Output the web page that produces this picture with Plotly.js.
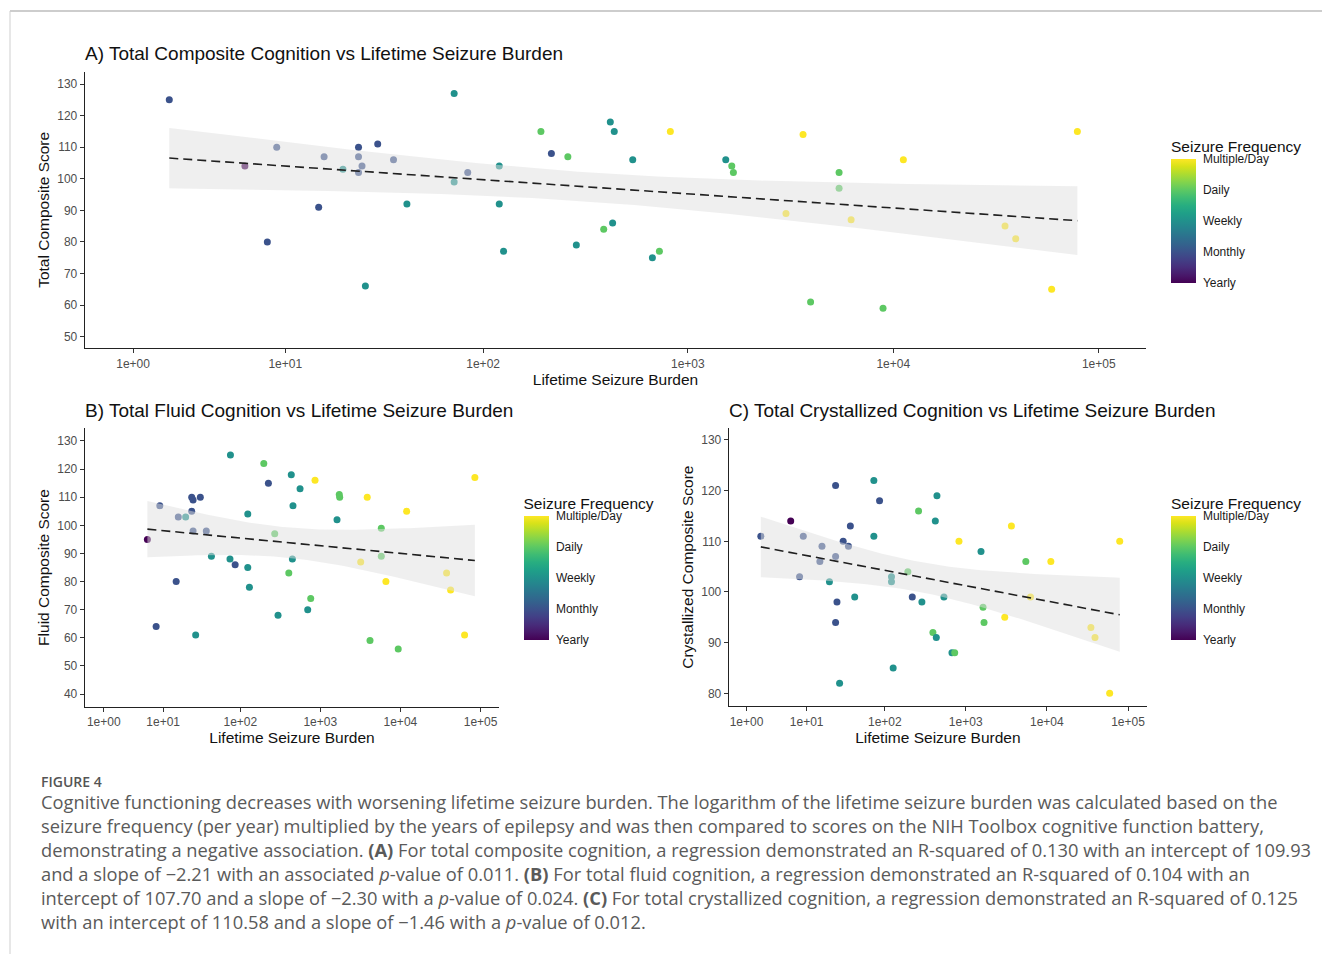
<!DOCTYPE html>
<html>
<head>
<meta charset="utf-8">
<script src="https://cdn.plot.ly/plotly-3.0.1.min.js"></script>
<style>
html,body{margin:0;padding:0;background:#fff;}
#chart{width:1322px;height:954px;}
</style>
</head>
<body>
<div id="chart"></div>
<script>
// ---------------- data ----------------
const freqLabels = ['Yearly', 'Monthly', 'Weekly', 'Daily', 'Multiple/Day'];
const freqLevels = [1, 2, 3, 4, 5];
const tickBurden = [1, 10, 100, 1000, 10000, 100000];
const tickLabels = ['1e+00', '1e+01', '1e+02', '1e+03', '1e+04', '1e+05'];

// Panel A: Total composite
const burdenA = [2, 9, 6, 8, 15, 16, 20, 24, 24, 25, 24, 30, 36, 26, 42, 72, 72, 84, 120, 120, 126, 192, 216, 260, 286, 389, 419, 438, 430, 539, 672, 727, 822, 1530, 1637, 1667, 3006, 3640, 3960, 5450, 5450, 6237, 8920, 11200, 34990, 39450, 59000, 78700];
const scoreA  = [125, 110, 104, 80, 91, 107, 103, 110, 107, 104, 102, 111, 106, 66, 92, 127, 99, 102, 104, 92, 77, 115, 108, 107, 79, 84, 118, 115, 86, 106, 75, 77, 115, 106, 104, 102, 89, 114, 61, 102, 97, 87, 59, 106, 85, 81, 65, 115];
const freqA   = [2, 2, 1, 2, 2, 2, 3, 2, 2, 2, 2, 2, 2, 3, 3, 3, 3, 2, 3, 3, 3, 4, 2, 4, 3, 4, 3, 3, 3, 3, 3, 4, 5, 3, 4, 4, 5, 5, 4, 4, 4, 5, 4, 5, 5, 5, 5, 5];

// Panel B: Total fluid
const burdenB = [75, 197, 225, 435, 560, 457, 9, 24, 25, 31, 24, 16, 20, 6, 25, 37, 124, 270, 43, 74, 86, 124, 130, 449, 405, 15, 297, 8, 27, 761, 698, 861, 1729, 1750, 1620, 3860, 5780, 5780, 3199, 6600, 11970, 4180, 9400, 37700, 42300, 63200, 84900];
const scoreB  = [125, 122, 115, 118, 113, 107, 107, 110, 109, 110, 105, 103, 103, 95, 98, 98, 104, 97, 89, 88, 86, 85, 78, 88, 83, 80, 68, 64, 61, 74, 70, 116, 111, 110, 102, 110, 99, 89, 87, 80, 105, 59, 56, 83, 77, 61, 117];
const freqB   = [3, 4, 2, 3, 3, 3, 2, 2, 2, 2, 2, 2, 3, 1, 2, 2, 3, 4, 3, 3, 2, 3, 3, 3, 4, 2, 3, 2, 3, 4, 3, 5, 4, 4, 3, 5, 4, 4, 5, 5, 5, 4, 4, 5, 5, 5, 5];

// Panel C: Total crystallized
const burdenC = [2, 6, 9, 8, 24, 16, 15, 24, 30, 37, 35, 20, 25, 24, 27, 42, 73, 86, 73, 121, 121, 193, 127, 219, 262, 288, 394, 442, 422, 434, 539, 826, 677, 732, 1545, 1637, 1683, 3660, 3030, 5510, 6290, 11200, 34900, 39200, 59400, 79000];
const scoreC  = [111, 114, 111, 103, 121, 109, 106, 107, 110, 113, 109, 102, 98, 94, 82, 99, 122, 118, 111, 103, 102, 104, 85, 99, 116, 98, 92, 119, 114, 91, 99, 110, 88, 88, 108, 97, 94, 113, 95, 106, 99, 106, 93, 91, 80, 110];
const freqC   = [2, 1, 2, 2, 2, 2, 2, 2, 2, 2, 2, 3, 2, 2, 3, 3, 3, 2, 3, 3, 3, 4, 3, 2, 4, 3, 4, 3, 3, 3, 3, 5, 3, 4, 3, 4, 4, 5, 5, 4, 5, 5, 5, 5, 5, 5];

const panelTitles = [
  'A) Total Composite Cognition vs Lifetime Seizure Burden',
  'B) Total Fluid Cognition vs Lifetime Seizure Burden',
  'C) Total Crystallized Cognition vs Lifetime Seizure Burden'
];
const yTitles = ['Total Composite Score', 'Fluid Composite Score', 'Crystallized Composite Score'];
const xTitle = 'Lifetime Seizure Burden';
const legendTitle = 'Seizure Frequency';

const captionHead = 'FIGURE 4';
const captionLines = [
  'Cognitive functioning decreases with worsening lifetime seizure burden. The logarithm of the lifetime seizure burden was calculated based on the',
  'seizure frequency (per year) multiplied by the years of epilepsy and was then compared to scores on the NIH Toolbox cognitive function battery,',
  'demonstrating a negative association. <b>(A)</b> For total composite cognition, a regression demonstrated an R-squared of 0.130 with an intercept of 109.93',
  'and a slope of \u22122.21 with an associated <i>p</i>-value of 0.011. <b>(B)</b> For total fluid cognition, a regression demonstrated an R-squared of 0.104 with an',
  'intercept of 107.70 and a slope of \u22122.30 with a <i>p</i>-value of 0.024. <b>(C)</b> For total crystallized cognition, a regression demonstrated an R-squared of 0.125',
  'with an intercept of 110.58 and a slope of \u22121.46 with a <i>p</i>-value of 0.012.'
];

// ---------------- helpers ----------------
const W = 1322, H = 954;
const px = v => v / W;
const py = v => 1 - v / H;
const FONT = 'Liberation Sans, Arial, Helvetica, sans-serif';
const CAPFONT = 'Open Sans, Noto Sans, sans-serif';

// linear model on log10(1 + burden) with 95% confidence band (like geom_smooth(method = "lm"))
function lmBand(burden, score) {
  const t = burden.map(b => Math.log10(1 + b));
  const n = t.length;
  const mx = t.reduce((s, v) => s + v, 0) / n;
  const my = score.reduce((s, v) => s + v, 0) / n;
  let sxx = 0, sxy = 0;
  for (let i = 0; i < n; i++) { sxx += (t[i] - mx) ** 2; sxy += (t[i] - mx) * (score[i] - my); }
  const slope = sxy / sxx, icpt = my - slope * mx;
  let sse = 0;
  for (let i = 0; i < n; i++) sse += (score[i] - icpt - slope * t[i]) ** 2;
  const s = Math.sqrt(sse / (n - 2));
  const df = n - 2, z = 1.959964;
  const tq = z + (z ** 3 + z) / (4 * df) + (5 * z ** 5 + 16 * z ** 3 + 3 * z) / (96 * df * df);
  const tmin = Math.min(...t), tmax = Math.max(...t);
  const xs = [], fit = [], lo = [], hi = [];
  const steps = 80;
  for (let k = 0; k <= steps; k++) {
    const g = tmin + (tmax - tmin) * k / steps;
    const f = icpt + slope * g;
    const se = s * Math.sqrt(1 / n + (g - mx) ** 2 / sxx);
    xs.push(Math.pow(10, g)); fit.push(f); lo.push(f - tq * se); hi.push(f + tq * se);
  }
  return { xs, fit, lo, hi };
}

function panelTraces(burden, score, freq, xa, ya, cax) {
  const band = lmBand(burden, score);
  return [
    {
      type: 'scatter', mode: 'markers', xaxis: xa, yaxis: ya,
      x: burden.map(b => b + 1), y: score,
      marker: { color: freq, coloraxis: cax, size: 7, line: { width: 0 } },
      showlegend: false, hoverinfo: 'x+y'
    },
    {
      type: 'scatter', mode: 'lines', xaxis: xa, yaxis: ya,
      x: band.xs.concat(band.xs.slice().reverse()),
      y: band.hi.concat(band.lo.slice().reverse()),
      fill: 'toself', fillcolor: 'rgba(224,224,224,0.5)', line: { width: 0 },
      showlegend: false, hoverinfo: 'skip'
    },
    {
      type: 'scatter', mode: 'lines', xaxis: xa, yaxis: ya,
      x: band.xs, y: band.fit,
      line: { color: '#1f1f1f', width: 1.6, dash: '9px,5px' },
      showlegend: false, hoverinfo: 'skip'
    }
  ];
}

function xAxis(domain, anchor, range, standoff) {
  return {
    domain: domain, anchor: anchor, type: 'log', range: range,
    tickvals: tickBurden.map(b => b + 1), ticktext: tickLabels,
    ticks: 'outside', ticklen: 4, tickwidth: 1, tickcolor: '#333',
    showline: true, linecolor: '#222', linewidth: 1.3,
    showgrid: false, zeroline: false,
    tickfont: { family: FONT, size: 12, color: '#4d4d4d' },
    title: { text: xTitle, font: { family: FONT, size: 15.5, color: '#111' }, standoff: standoff }
  };
}
function yAxis(domain, anchor, range, dtick, ytitle) {
  return {
    domain: domain, anchor: anchor, range: range, dtick: dtick, tick0: 0,
    ticks: 'outside', ticklen: 4, tickwidth: 1, tickcolor: '#333',
    showline: true, linecolor: '#222', linewidth: 1.3,
    showgrid: false, zeroline: false,
    tickfont: { family: FONT, size: 12, color: '#4d4d4d' },
    title: { text: ytitle, font: { family: FONT, size: 15.5, color: '#111' }, standoff: 3 }
  };
}
function colorAxis(xLeft, topPx) {
  return {
    colorscale: 'Viridis', cmin: 1, cmax: 5,
    colorbar: {
      x: px(xLeft), xanchor: 'left', xpad: 0,
      y: py(topPx), yanchor: 'top', ypad: 0,
      len: 146, lenmode: 'pixels', thickness: 25, thicknessmode: 'pixels',
      outlinewidth: 0,
      tickvals: freqLevels, ticktext: freqLabels,
      ticks: 'outside', ticklen: 5, tickwidth: 1, tickcolor: 'rgba(255,255,255,0)',
      tickfont: { family: FONT, size: 12, color: '#1a1a1a' },
      title: { text: legendTitle, side: 'top', font: { family: FONT, size: 15.5, color: '#111' } }
    }
  };
}

const xRange = [0.067, 5.23];
const traces = []
  .concat(panelTraces(burdenA, scoreA, freqA, 'x', 'y', 'coloraxis'))
  .concat(panelTraces(burdenB, scoreB, freqB, 'x2', 'y2', 'coloraxis2'))
  .concat(panelTraces(burdenC, scoreC, freqC, 'x3', 'y3', 'coloraxis3'));

const annotations = [
  { text: panelTitles[0], x: px(83), y: py(53) },
  { text: panelTitles[1], x: px(83), y: py(410) },
  { text: panelTitles[2], x: px(727), y: py(410) }
].map(a => Object.assign(a, {
  xref: 'paper', yref: 'paper', xanchor: 'left', yanchor: 'middle', showarrow: false,
  font: { family: FONT, size: 19, color: '#111' }
}));

annotations.push({
  text: captionHead, x: px(39), y: py(781), xref: 'paper', yref: 'paper',
  xanchor: 'left', yanchor: 'middle', showarrow: false,
  font: { family: CAPFONT, size: 14, color: '#555', weight: 600 }
});
captionLines.forEach((line, i) => {
  annotations.push({
    text: line, x: px(39), y: py(801 + 24 * i), xref: 'paper', yref: 'paper',
    xanchor: 'left', yanchor: 'middle', showarrow: false, align: 'left',
    font: { family: CAPFONT, size: 18.3, color: '#5a5a5a' }
  });
});

const layout = {
  width: W, height: H,
  margin: { l: 0, r: 0, t: 0, b: 0 },
  paper_bgcolor: '#ffffff', plot_bgcolor: '#ffffff',
  font: { family: FONT, color: '#111' },
  showlegend: false,
  xaxis:  xAxis([px(85), px(1146)], 'y', xRange, 2),
  yaxis:  yAxis([py(348), py(71.7)], 'x', [46.4, 133.9], 10, yTitles[0]),
  xaxis2: xAxis([px(85), px(499)], 'y2', xRange, 1),
  yaxis2: yAxis([py(706.7), py(428.3)], 'x2', [35.5, 134.5], 10, yTitles[1]),
  xaxis3: xAxis([px(729), px(1146.7)], 'y3', [0.085, 5.23], 1),
  yaxis3: yAxis([py(706), py(428.3)], 'x3', [77.5, 132.3], 10, yTitles[2]),
  coloraxis: colorAxis(1171, 137),
  coloraxis2: colorAxis(523.5, 494),
  coloraxis3: colorAxis(1171, 494),
  annotations: annotations,
  shapes: [
    { type: 'line', xref: 'paper', yref: 'paper', x0: px(10), x1: 1, y0: py(11), y1: py(11), line: { color: '#bdbdbd', width: 1.5 } },
    { type: 'line', xref: 'paper', yref: 'paper', x0: px(10), x1: px(10), y0: py(11), y1: 0, line: { color: '#cfcfcf', width: 1 } }
  ]
};

Plotly.newPlot('chart', traces, layout, { displayModeBar: false, staticPlot: true });
</script>
</body>
</html>
